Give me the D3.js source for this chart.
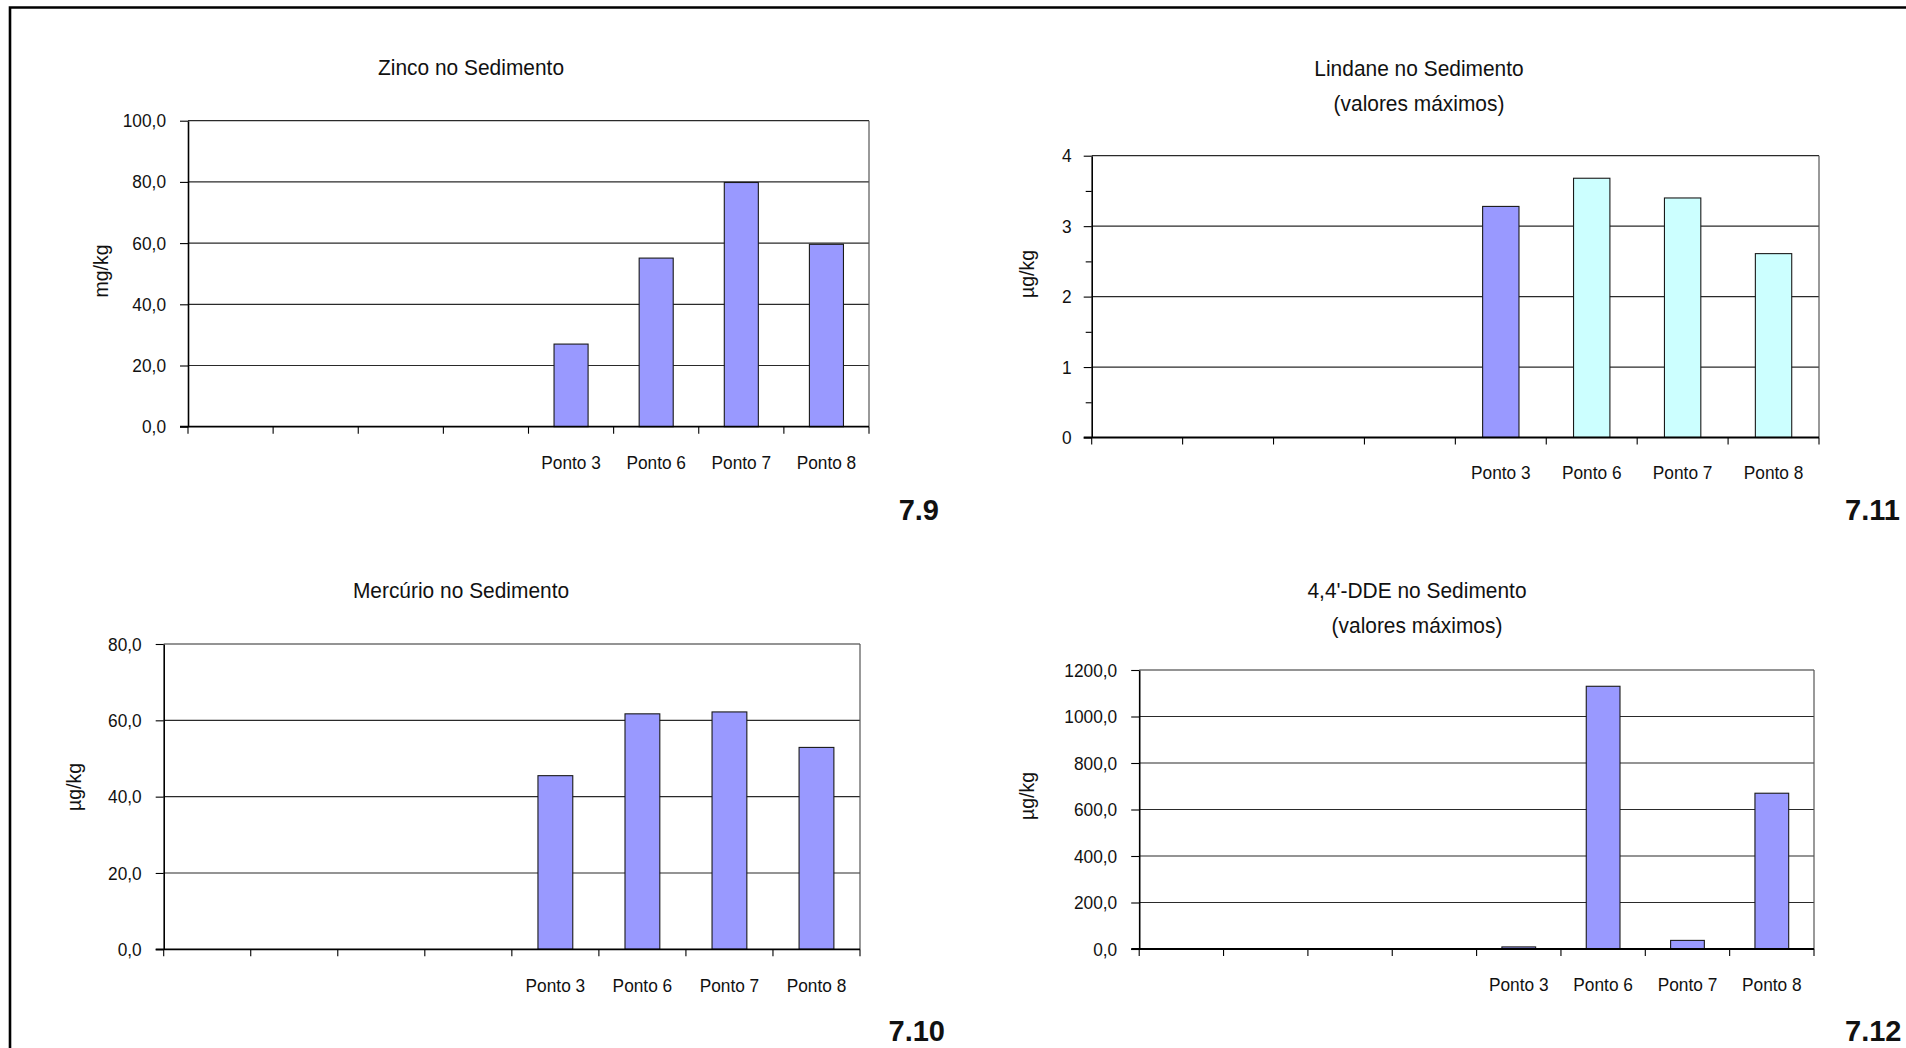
<!DOCTYPE html>
<html lang="pt">
<head>
<meta charset="utf-8">
<title>Sedimento – Zinco, Mercúrio, Lindane e 4,4'-DDE</title>
<script src="https://cdn.jsdelivr.net/npm/d3@7/dist/d3.min.js"></script>
<style>
  html, body { margin: 0; padding: 0; background: #fff; }
  svg { display: block; font-family: "Liberation Sans", Arial, Helvetica, sans-serif; }
</style>
</head>
<body>
<svg id="fig" width="1906" height="1048"></svg>
<script>
// Sampling points (the first four slots of each chart are empty)
const slots = ["", "", "", "", "Ponto 3", "Ponto 6", "Ponto 7", "Ponto 8"];

// Zinco no Sedimento (mg/kg)
const zincoValues = [null, null, null, null, 27.0, 55.1, 79.8, 59.6];
const zincoTicks = [0, 20, 40, 60, 80, 100];

// Lindane no Sedimento, valores máximos (µg/kg)
const lindaneValues = [null, null, null, null, 3.28, 3.68, 3.40, 2.61];
const lindaneTicks = [0, 1, 2, 3, 4];
const lindaneMinorTicks = [0.5, 1.5, 2.5, 3.5];

// Mercúrio no Sedimento (µg/kg)
const mercurioValues = [null, null, null, null, 45.5, 61.7, 62.2, 52.9];
const mercurioTicks = [0, 20, 40, 60, 80];

// 4,4'-DDE no Sedimento, valores máximos (µg/kg)
const ddeValues = [null, null, null, null, 9, 1130, 37, 670];
const ddeTicks = [0, 200, 400, 600, 800, 1000, 1200];

const ptBR = d3.formatLocale({ decimal: ",", thousands: ".", grouping: [3], currency: ["R$", ""] });
const fmtOneDecimal = ptBR.format(".1f");
const fmtInteger = ptBR.format("d");

const BLUE = "#9999FF";
const CYAN = "#CCFFFF";
const NARROW = 0.91;       // horizontal squeeze for the narrow axis lettering
const TITLE_NARROW = 0.93;

const svg = d3.select("#fig");

// Page frame: heavy rule across the top and down the left side
svg.append("path")
  .attr("d", "M10,1048 V7.5 H1906")
  .attr("fill", "none")
  .attr("stroke", "#000")
  .attr("stroke-width", 2.6);

function drawChart(cfg) {
  const g = svg.append("g");
  const data = slots.map((label, i) => ({ i, label, value: cfg.values[i] }));

  const x = d3.scaleBand()
    .domain(d3.range(slots.length))
    .range([cfg.left, cfg.right])
    .paddingInner(0.6)
    .paddingOuter(0.3);

  const yMax = cfg.ticks[cfg.ticks.length - 1];
  const y = d3.scaleLinear().domain([0, yMax]).range([cfg.bottom, cfg.top]);

  // Horizontal gridlines at each major tick, plus plot border on the right
  g.append("g").selectAll("line")
    .data(cfg.ticks.filter(t => t > 0))
    .join("line")
    .attr("x1", cfg.left).attr("x2", cfg.right)
    .attr("y1", d => y(d)).attr("y2", d => y(d))
    .attr("stroke", "#2a2a2a").attr("stroke-width", 1.2);
  g.append("line")
    .attr("x1", cfg.right).attr("x2", cfg.right)
    .attr("y1", cfg.top).attr("y2", cfg.bottom)
    .attr("stroke", "#555").attr("stroke-width", 1.2);

  // Bars
  g.append("g").selectAll("rect")
    .data(data.filter(d => d.value != null))
    .join("rect")
    .attr("x", d => x(d.i))
    .attr("width", x.bandwidth())
    .attr("y", d => y(d.value))
    .attr("height", d => y(0) - y(d.value))
    .attr("fill", d => cfg.fill(d))
    .attr("stroke", "#1a1a1a")
    .attr("stroke-width", 1.1);

  // Minor y ticks
  if (cfg.minorTicks) {
    g.append("g")
      .attr("transform", `translate(${cfg.left},0)`)
      .call(d3.axisLeft(y).tickValues(cfg.minorTicks).tickSize(6).tickFormat(""))
      .call(a => a.select(".domain").remove())
      .call(a => a.selectAll("line").attr("stroke", "#000").attr("stroke-width", 1.1));
  }

  // Y axis
  const tickSize = 8;
  g.append("g")
    .attr("transform", `translate(${cfg.left},0)`)
    .call(d3.axisLeft(y).tickValues(cfg.ticks).tickSize(tickSize).tickSizeOuter(0)
      .tickPadding(cfg.tickPad).tickFormat(cfg.format))
    .call(a => a.select(".domain").attr("stroke", "#000").attr("stroke-width", 1.6))
    .call(a => a.selectAll(".tick line").attr("stroke", "#000").attr("stroke-width", 1.1))
    .call(a => a.selectAll("text")
      .attr("fill", "#111")
      .attr("x", -(tickSize + cfg.tickPad) / NARROW)
      .attr("transform", `scale(${NARROW},1)`)
      .style("font-size", "19px"));

  // Category labels under the axis
  g.append("g")
    .attr("transform", `translate(0,${cfg.bottom})`)
    .call(d3.axisBottom(x).tickSize(0).tickPadding(cfg.catPad).tickFormat(i => slots[i]))
    .call(a => a.select(".domain").remove())
    .call(a => a.selectAll("text")
      .attr("fill", "#111")
      .attr("transform", `scale(${NARROW},1)`)
      .style("font-size", "19px"));

  // Category boundary ticks and the baseline
  const bounds = d3.range(slots.length + 1).map(k => cfg.left + k * x.step());
  g.append("g").selectAll("line")
    .data(bounds)
    .join("line")
    .attr("x1", d => d).attr("x2", d => d)
    .attr("y1", cfg.bottom).attr("y2", cfg.bottom + 7)
    .attr("stroke", "#000").attr("stroke-width", 1.1);
  g.append("line")
    .attr("x1", cfg.left - 8).attr("x2", cfg.right)
    .attr("y1", cfg.bottom).attr("y2", cfg.bottom)
    .attr("stroke", "#000").attr("stroke-width", 1.8);

  // Title (one or two centred lines)
  cfg.title.forEach((line, k) => {
    g.append("text")
      .attr("transform", `translate(${cfg.titleX},${cfg.titleY[k]}) scale(${TITLE_NARROW},1)`)
      .attr("text-anchor", "middle")
      .attr("fill", "#111")
      .style("font-size", "22.5px")
      .text(line);
  });

  // Y axis title
  g.append("text")
    .attr("transform", `translate(${cfg.ylabelX},${cfg.ylabelY}) rotate(-90)`)
    .attr("text-anchor", "middle")
    .attr("fill", "#111")
    .style("font-size", "19.5px")
    .text(cfg.ylabel);

  // Figure number
  g.append("text")
    .attr("x", cfg.figX).attr("y", cfg.figY)
    .attr("text-anchor", cfg.figAnchor)
    .attr("fill", "#111")
    .style("font-size", "29px")
    .style("font-weight", "bold")
    .text(cfg.fig);
}

drawChart({
  values: zincoValues, ticks: zincoTicks, format: fmtOneDecimal,
  fill: () => BLUE,
  left: 188, right: 869, top: 120.7, bottom: 426.7, tickPad: 14, catPad: 29,
  title: ["Zinco no Sedimento"], titleX: 471, titleY: [75],
  ylabel: "mg/kg", ylabelX: 108, ylabelY: 271,
  fig: "7.9", figX: 939, figY: 520, figAnchor: "end"
});

drawChart({
  values: lindaneValues, ticks: lindaneTicks, minorTicks: lindaneMinorTicks, format: fmtInteger,
  fill: d => d.label === "Ponto 3" ? BLUE : CYAN,
  left: 1091.7, right: 1819, top: 155.7, bottom: 437.5, tickPad: 12, catPad: 28,
  title: ["Lindane no Sedimento", "(valores máximos)"], titleX: 1419, titleY: [76, 110.5],
  ylabel: "µg/kg", ylabelX: 1034, ylabelY: 274,
  fig: "7.11", figX: 1845, figY: 520, figAnchor: "start"
});

drawChart({
  values: mercurioValues, ticks: mercurioTicks, format: fmtOneDecimal,
  fill: () => BLUE,
  left: 163.7, right: 860, top: 644, bottom: 949.3, tickPad: 14, catPad: 29,
  title: ["Mercúrio no Sedimento"], titleX: 461, titleY: [598],
  ylabel: "µg/kg", ylabelX: 81, ylabelY: 787,
  fig: "7.10", figX: 945, figY: 1041, figAnchor: "end"
});

drawChart({
  values: ddeValues, ticks: ddeTicks, format: fmtOneDecimal,
  fill: () => BLUE,
  left: 1139.2, right: 1814, top: 670, bottom: 949, tickPad: 14, catPad: 29,
  title: ["4,4'-DDE no Sedimento", "(valores máximos)"], titleX: 1417, titleY: [598, 633],
  ylabel: "µg/kg", ylabelX: 1034, ylabelY: 796,
  fig: "7.12", figX: 1845, figY: 1041, figAnchor: "start"
});
</script>
</body>
</html>
